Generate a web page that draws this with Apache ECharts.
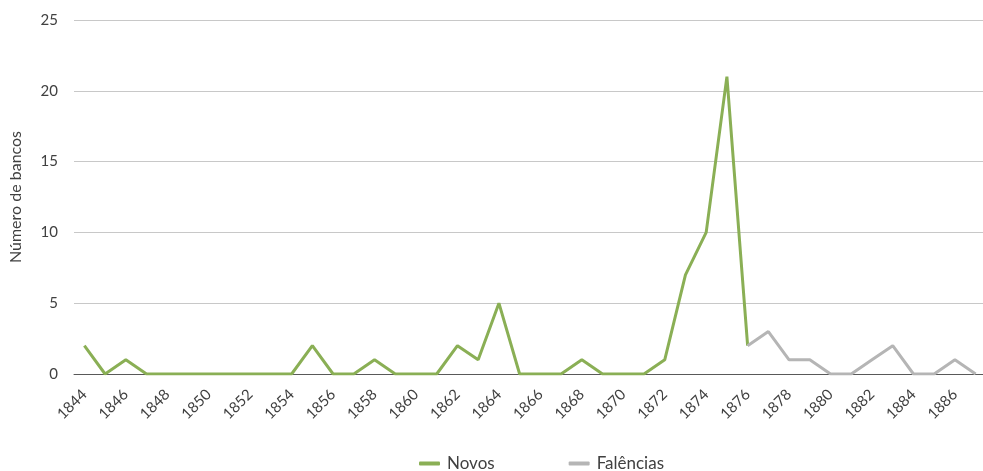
<!DOCTYPE html>
<html><head><meta charset="utf-8">
<script src="https://cdn.jsdelivr.net/npm/echarts@6/dist/echarts.min.js"></script>
<style>html,body{margin:0;padding:0;background:#fff}#c{width:983px;height:471px}</style>
</head><body><div id="c"></div>
<script>
const years = [];
for (let y = 1844; y <= 1887; y++) years.push(String(y));
const novos = [2,0,1,0,0,0,0,0,0,0,0,2,0,0,1,0,0,0,2,1,5,0,0,0,1,0,0,0,1,7,10,21,2,
  null,null,null,null,null,null,null,null,null,null,null];
const falencias = [null,null,null,null,null,null,null,null,null,null,null,null,null,null,null,null,
  null,null,null,null,null,null,null,null,null,null,null,null,null,null,null,null,
  2,3,1,1,0,0,1,2,0,0,1,0];
const yTicks = [0,5,10,15,20,25];
const font = 'Lato, "Open Sans", sans-serif';
const chart = echarts.init(document.getElementById('c'));
chart.setOption({
  animation: false,
  textStyle: { fontFamily: font },
  grid: { left: 74, right: -3, top: 20, bottom: 97, containLabel: false, outerBoundsMode: 'none' },
  legend: {
    top: 450, left: 414, itemWidth: 21, itemHeight: 4, itemGap: 74,
    icon: 'roundRect',
    textStyle: { fontSize: 17, color: '#404040', fontFamily: font, padding: [0, 0, 0, 2] },
    data: ['Novos', 'Falências']
  },
  xAxis: {
    type: 'category', data: years, boundaryGap: true,
    axisLine: { lineStyle: { color: '#595959', width: 1 } },
    axisTick: { show: false },
    axisLabel: { interval: 1, rotate: 45, fontSize: 15, color: '#404040', margin: 18, fontFamily: font }
  },
  yAxis: {
    type: 'value', min: yTicks[0], max: yTicks[yTicks.length - 1], interval: 5,
    name: 'Número de bancos', nameLocation: 'middle', nameGap: 50, nameRotate: 90,
    nameTextStyle: { fontSize: 16, color: '#404040', fontFamily: font },
    axisLine: { show: false }, axisTick: { show: false },
    axisLabel: { fontSize: 15, color: '#404040', margin: 16, fontFamily: font },
    splitLine: { lineStyle: { color: '#c8c8c8', width: 1 } }
  },
  series: [
    { name: 'Novos', type: 'line', data: novos, showSymbol: false, symbol: 'none',
      lineStyle: { color: '#8aaf55', width: 3 }, itemStyle: { color: '#8aaf55' } },
    { name: 'Falências', type: 'line', data: falencias, showSymbol: false, symbol: 'none',
      lineStyle: { color: '#b5b5b5', width: 3 }, itemStyle: { color: '#b5b5b5' } }
  ]
});
</script></body></html>
